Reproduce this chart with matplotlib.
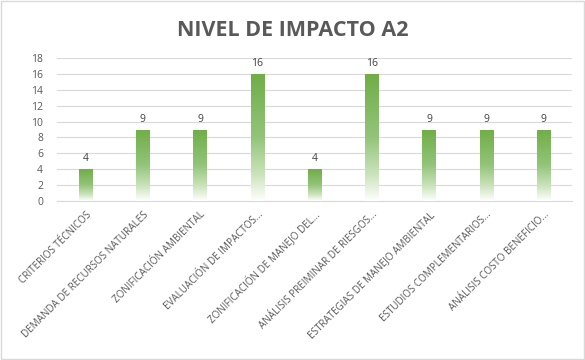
import matplotlib
matplotlib.use("Agg")
import matplotlib.pyplot as plt
import numpy as np
from matplotlib.colors import LinearSegmentedColormap
from matplotlib.patches import Rectangle

categorias = [
    "CRITERIOS TÉCNICOS",
    "DEMANDA DE RECURSOS NATURALES",
    "ZONIFICACIÓN AMBIENTAL",
    "EVALUACIÓN DE IMPACTOS...",
    "ZONIFICACIÓN DE MANEJO DEL...",
    "ANÁLISIS PREIMINAR DE RIESGOS...",
    "ESTRATEGIAS DE MANEJO AMBIENTAL",
    "ESTUDIOS COMPLEMENTARIOS...",
    "ANÁLISIS COSTO BENEFICIO...",
]
valores = [4, 9, 9, 16, 4, 16, 9, 9, 9]

plt.rcParams["font.family"] = ["Open Sans", "DejaVu Sans"]

fig = plt.figure(figsize=(5.85, 3.6), dpi=100)
ax = fig.add_axes([57 / 585, 1 - 201 / 360, 515 / 585, 143 / 360])

x = np.arange(len(categorias))
bars = ax.bar(x, valores, width=0.23, facecolor="none", edgecolor="none", zorder=3)

# degradado verde -> blanco en cada barra
cmap = LinearSegmentedColormap.from_list(
    "verde", [(0.0, "#ffffff"), (0.2, "#cde4bd"), (0.5, "#93c47a"), (1.0, "#70ad47")])
grad = np.linspace(0, 1, 256).reshape(-1, 1)
for b in bars:
    x0, w, h = b.get_x(), b.get_width(), b.get_height()
    im = ax.imshow(grad, cmap=cmap, origin="lower", aspect="auto",
                   extent=[x0, x0 + w, 0, h], zorder=3)
    clip = Rectangle((x0, 0), w, h, transform=ax.transData)
    im.set_clip_path(clip)

for xi, v in zip(x, valores):
    ax.text(xi, v + 0.6, str(v), ha="center", va="bottom", fontsize=7.5, color="#404040")

ax.set_xlim(-0.5, len(categorias) - 0.5)
ax.set_ylim(0, 18)
ax.set_yticks(range(0, 19, 2))
ax.yaxis.grid(True, color="#d9d9d9", linewidth=0.8, zorder=0)
ax.set_axisbelow(True)
for s in ["top", "right", "left"]:
    ax.spines[s].set_visible(False)
ax.spines["bottom"].set_color("#d9d9d9")
ax.tick_params(axis="both", length=0, colors="#595959", labelsize=7.5)
ax.tick_params(axis="y", pad=10)
ax.set_xticks(x)
ax.set_xticklabels(categorias, rotation=45, ha="right", rotation_mode="anchor", fontsize=7.1)
ax.tick_params(axis="x", pad=6)

fig.text(0.5, 1 - 30 / 360, "NIVEL DE IMPACTO A2", ha="center", va="center",
         fontsize=15.5, fontweight="bold", color="#595959")

fig.patches.append(Rectangle((0.002, 0.002), 0.996, 0.996, transform=fig.transFigure,
                             fill=False, edgecolor="#d9d9d9", linewidth=1))

fig.savefig("out.png", dpi=100)
